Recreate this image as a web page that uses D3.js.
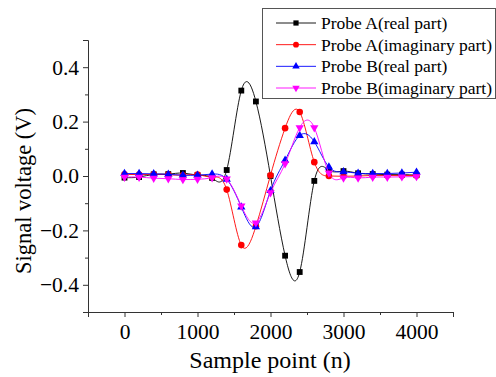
<!DOCTYPE html>
<html><head><meta charset="utf-8">
<script src="https://cdn.jsdelivr.net/npm/d3@7/dist/d3.min.js"></script>
<style>body{margin:0;background:#fff}svg{display:block}</style>
</head><body><svg id="c" width="496" height="377"></svg>
<script>
const samples = [0,200,400,600,800,1000,1200,1400,1600,1800,2000,2200,2400,2600,2800,3000,3200,3400,3600,3800,4000];
const probeAReal = [-0.006,-0.004,0.006,0.007,0.011,0.003,-0.007,0.022,0.314,0.274,0.0,-0.293,-0.353,-0.018,0.021,0.018,0.010,0.007,0.005,0.005,0.003];
const probeAImag = [0.006,0.005,0.006,0.005,0.003,0.005,-0.004,-0.050,-0.254,-0.185,0.003,0.176,0.235,0.051,0.000,-0.001,0.000,0.002,0.002,0.002,0.002];
const probeBReal = [0.009,0.009,0.008,0.006,0.003,0.003,0.007,-0.012,-0.114,-0.187,-0.054,0.058,0.149,0.126,0.033,0.015,0.010,0.009,0.009,0.011,0.014];
const probeBImag = [-0.004,-0.004,-0.008,-0.010,-0.013,-0.012,-0.006,-0.011,-0.110,-0.172,-0.061,0.045,0.178,0.178,0.011,-0.007,-0.007,-0.004,-0.004,-0.003,-0.002];
const seriesNames = ["Probe A(real part)","Probe A(imaginary part)","Probe B(real part)","Probe B(imaginary part)"];
const xTicks = [0,1000,2000,3000,4000];
const yTicks = [-0.4,-0.2,0.0,0.2,0.4];

const FONT = "'Liberation Serif'";
const svg = d3.select("#c");
const x = d3.scaleLinear().domain([-500,4500]).range([88,453]);
const y = d3.scaleLinear().domain([-0.5,0.5]).range([312,40]);

const series = [
  {name:seriesNames[0], vals:probeAReal, color:"#000000", sym:d3.symbolSquare, size:34, rot:0},
  {name:seriesNames[1], vals:probeAImag, color:"#ff0000", sym:d3.symbolCircle, size:34, rot:0},
  {name:seriesNames[2], vals:probeBReal, color:"#0000ff", sym:d3.symbolTriangle, size:30, rot:0},
  {name:seriesNames[3], vals:probeBImag, color:"#ff00ff", sym:d3.symbolTriangle, size:30, rot:180}
];

// axes
const yAxis = d3.axisLeft(y).tickValues(yTicks).tickFormat(d3.format(".1f")).tickSize(5).tickPadding(4);
const yMinor = d3.axisLeft(y).tickValues([-0.5,-0.3,-0.1,0.1,0.3,0.5]).tickFormat("").tickSize(3);
const xAxis = d3.axisBottom(x).tickValues(xTicks).tickFormat(d3.format("d")).tickSize(5).tickPadding(7);
const xMinor = d3.axisBottom(x).tickValues([-500,500,1500,2500,3500,4500]).tickFormat("").tickSize(3);

function style(g){
  g.attr("font-family",null).attr("font-size",null);
  g.select(".domain").attr("stroke","#333");
  g.selectAll(".tick line").attr("stroke","#333");
  g.selectAll("text").attr("fill","#000").style("font-family",FONT).attr("font-size",21.5);
}
svg.append("g").attr("transform","translate(88,0)").call(yMinor).call(style).select(".domain").remove();
svg.append("g").attr("transform","translate(88,0)").call(yAxis).call(style);
svg.append("g").attr("transform","translate(0,312)").call(xMinor).call(style).select(".domain").remove();
svg.append("g").attr("transform","translate(0,312)").call(xAxis).call(style);
// x-axis baseline extends slightly left of y axis as in the reference
svg.append("line").attr("x1",86).attr("x2",88).attr("y1",312.5).attr("y2",312.5).attr("stroke","#333");

// axis titles
svg.append("text").attr("x",270).attr("y",368).attr("text-anchor","middle")
  .style("font-family",FONT).attr("font-size",24).text("Sample point (n)");
svg.append("text").attr("transform","translate(31,191) rotate(-90)").attr("text-anchor","middle")
  .style("font-family",FONT).attr("font-size",22.5).text("Signal voltage (V)");

// lines and markers
const line = d3.line().x((d,i)=>x(samples[i])).y(d=>y(d)).curve(d3.curveNatural);
series.forEach(s=>{
  const g = svg.append("g");
  g.append("path").attr("d",line(s.vals)).attr("fill","none").attr("stroke",s.color).attr("stroke-width",0.9);
  g.selectAll("path.m").data(s.vals).enter().append("path").attr("class","m")
    .attr("d",d3.symbol().type(s.sym).size(s.size))
    .attr("transform",(d,i)=>`translate(${x(samples[i])},${y(d)}) rotate(${s.rot})`)
    .attr("fill",s.color);
});

// legend
const lg = svg.append("g");
lg.append("rect").attr("x",262.5).attr("y",8.5).attr("width",233).attr("height",90).attr("fill","#fff").attr("stroke","#555").attr("stroke-width",1);
const rowY = d3.scaleLinear().domain([0,3]).range([23,88]);
series.forEach((s,i)=>{
  const yy = rowY(i);
  lg.append("line").attr("x1",276).attr("x2",316).attr("y1",yy).attr("y2",yy).attr("stroke",s.color).attr("stroke-width",0.9);
  lg.append("path").attr("d",d3.symbol().type(s.sym).size(s.size*0.8)).attr("transform",`translate(296,${yy}) rotate(${s.rot})`).attr("fill",s.color);
  lg.append("text").attr("x",321).attr("y",yy+6).style("font-family",FONT).attr("font-size",17.5).text(s.name);
});
</script></body></html>
